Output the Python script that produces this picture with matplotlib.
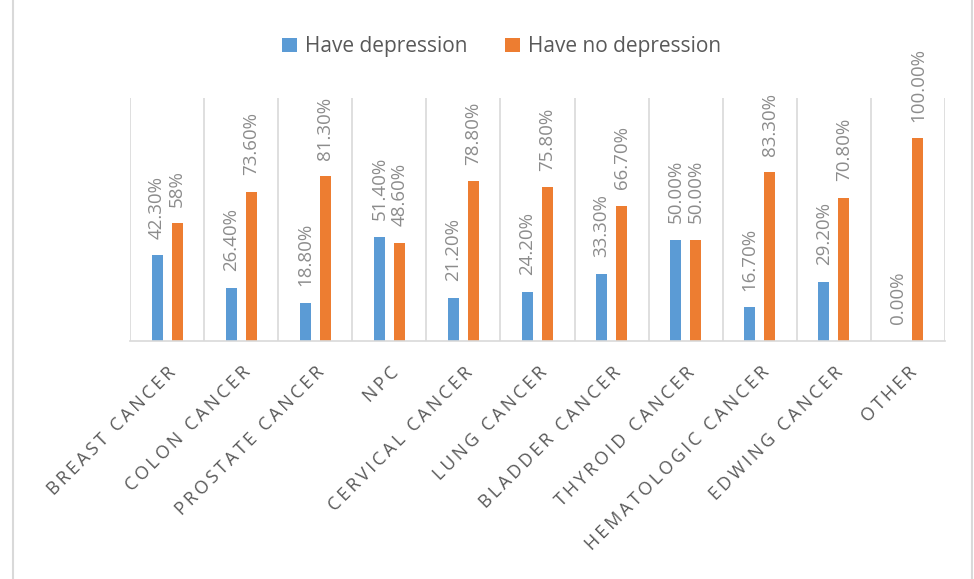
import matplotlib
matplotlib.use("Agg")
import matplotlib.pyplot as plt
from matplotlib.lines import Line2D
import numpy as np

categories = ["BREAST CANCER", "COLON CANCER", "PROSTATE CANCER", "NPC",
              "CERVICAL CANCER", "LUNG CANCER", "BLADDER CANCER",
              "THYROID CANCER", "HEMATOLOGIC CANCER", "EDWING CANCER", "OTHER"]
have_dep = [42.3, 26.4, 18.8, 51.4, 21.2, 24.2, 33.3, 50.0, 16.7, 29.2, 0.0]
no_dep = [58.0, 73.6, 81.3, 48.6, 78.8, 75.8, 66.7, 50.0, 83.3, 70.8, 100.0]
have_dep_labels = ["42.30%", "26.40%", "18.80%", "51.40%", "21.20%", "24.20%",
                   "33.30%", "50.00%", "16.70%", "29.20%", "0.00%"]
no_dep_labels = ["58%", "73.60%", "81.30%", "48.60%", "78.80%", "75.80%",
                 "66.70%", "50.00%", "83.30%", "70.80%", "100.00%"]

blue = "#5B9BD5"
orange = "#ED7D31"
grid_col = "#D9D9D9"
plt.rcParams['font.family'] = ['Open Sans', 'DejaVu Sans']

fig = plt.figure(figsize=(9.74, 5.79), dpi=100)
ax = fig.add_axes([0.1335, 0.411, 0.8367, 0.42])

x = np.arange(len(categories))
w = 0.15
off = 0.135
b1 = ax.bar(x - off, have_dep, w, color=blue, label="Have depression")
b2 = ax.bar(x + off, no_dep, w, color=orange, label="Have no depression")

for bars, labs in ((b1, have_dep_labels), (b2, no_dep_labels)):
    for bar, lab in zip(bars, labs):
        ax.annotate(lab, (bar.get_x() + bar.get_width() / 2, bar.get_height()),
                    xytext=(0, 12), textcoords="offset points", rotation=90,
                    ha="center", va="bottom", fontsize=13.5, color="#8C8C8C")

ax.set_xlim(-0.5, len(categories) - 0.5)
ax.set_ylim(0, 120)
for b in np.arange(-0.5, len(categories) + 0.5, 1):
    ax.axvline(b, color=grid_col, lw=1.2, zorder=0)

for s in ("top", "left", "right"):
    ax.spines[s].set_visible(False)
ax.spines["bottom"].set_color(grid_col)
ax.spines["bottom"].set_linewidth(1.2)
ax.set_yticks([])

spaced = ["\u2009".join(c) for c in categories]
ax.set_xticks(x)
ax.set_xticklabels(spaced, rotation=45, ha="right", rotation_mode="anchor",
                   fontsize=13, color="#595959")
ax.tick_params(axis="x", length=0, pad=16)

fig.legend(handles=[b1, b2], loc="upper center", bbox_to_anchor=(0.515, 0.97),
           ncol=2, frameon=False, fontsize=15, labelcolor="#595959",
           handlelength=0.7, handleheight=0.7, handletextpad=0.4, columnspacing=1.8)

# outer chart frame edges
fig.add_artist(Line2D([13 / 974, 13 / 974], [0, 1], color=grid_col, lw=1.5))
fig.add_artist(Line2D([972 / 974, 972 / 974], [0, 1], color=grid_col, lw=1.5))

fig.savefig("out.png", dpi=100)
